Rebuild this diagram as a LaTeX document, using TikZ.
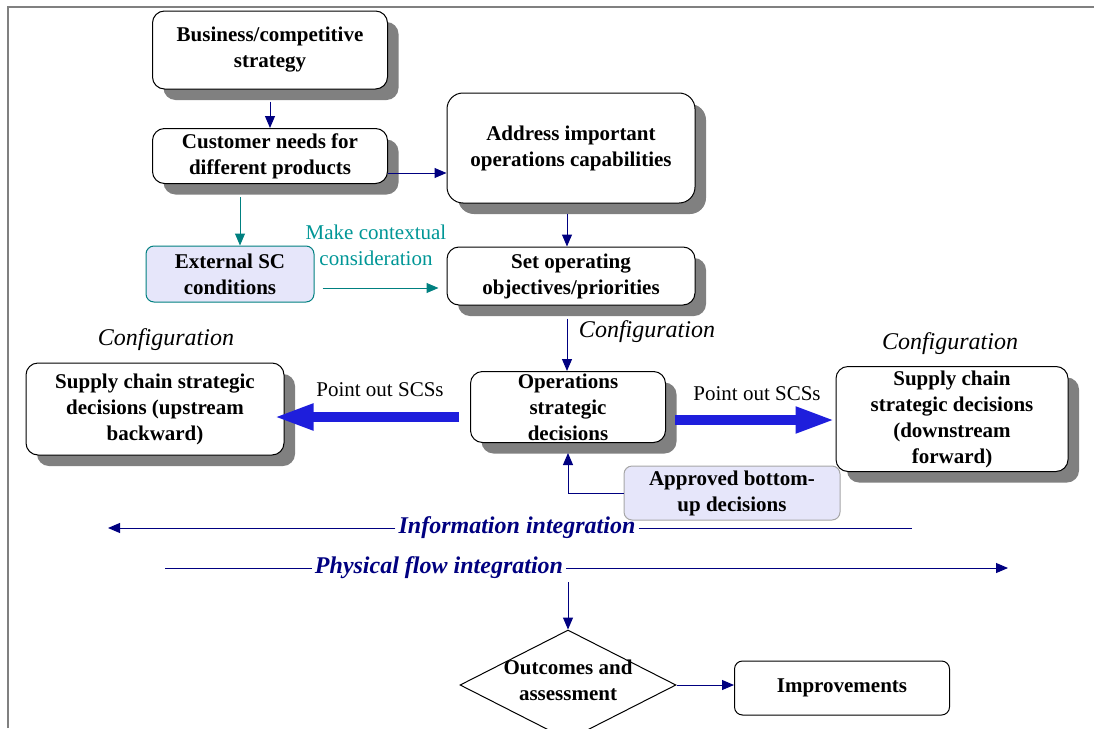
\documentclass[tikz,border=0pt]{standalone}
\usepackage{fontspec}
\setmainfont{Liberation Serif}
\usetikzlibrary{arrows.meta,shapes.geometric,shadows}

\definecolor{navyline}{RGB}{0,0,128}
\definecolor{tealline}{RGB}{0,128,128}
\definecolor{tealtext}{RGB}{0,150,150}
\definecolor{fatblue}{RGB}{30,30,220}
\definecolor{lavbox}{RGB}{230,230,250}
\definecolor{shadegray}{RGB}{128,128,128}
\definecolor{framegray}{RGB}{128,128,128}

\newcommand\boxfont{\fontsize{21}{26}\selectfont\bfseries}
\newcommand\notefont{\fontsize{21}{26}\selectfont}
\newcommand\tagfont{\fontsize{24}{28}\selectfont\itshape}

\tikzset{
  stage/.style={draw, line width=1pt, rounded corners=12pt, fill=white,
    align=center, font=\boxfont, inner sep=0pt,
    drop shadow={shadow xshift=11pt, shadow yshift=-11pt, fill=shadegray, opacity=1}},
  plainbox/.style={draw, line width=1pt, rounded corners=8pt, fill=white,
    align=center, font=\boxfont, inner sep=0pt},
  sidebox/.style={plainbox, fill=lavbox},
  decide/.style={diamond, draw, line width=1pt, inner sep=0pt,
    minimum width=216pt, minimum height=110pt},
  flow/.style={navyline, line width=1pt, -{Triangle[length=12pt,width=10pt]}},
  flowline/.style={navyline, line width=1pt},
  tealflow/.style={tealline, line width=1pt, -{Triangle[length=12pt,width=10pt]}},
  fatflow/.style={fatblue, line width=10pt, -{Triangle[length=40pt,width=24pt]}},
  conftag/.style={font=\tagfont},
  flowtag/.style={font=\tagfont\bfseries, text=navyline, inner sep=3pt},
  scslabel/.style={font=\notefont}
}

\begin{document}
\begin{tikzpicture}[x=1pt, y=-1pt]
  \useasboundingbox (0,0) rectangle (1094,728);
  \draw[framegray, line width=2pt] (8,728) -- (8,7) -- (1094,7);

  \node[stage, minimum width=235pt, minimum height=78pt] (biz) at (270,50)
    {Business/competitive\\strategy};
  \node[stage, minimum width=235pt, minimum height=55pt] (cust) at (270,156)
    {Customer needs for\\different products};
  \node[stage, minimum width=248pt, minimum height=110pt, rounded corners=16pt] (addr) at (571,148)
    {Address important\\operations capabilities};
  \node[sidebox, draw=tealline, minimum width=168pt, minimum height=56pt] (ext) at (230,274)
    {External SC\\conditions};
  \node[stage, minimum width=248pt, minimum height=58pt] (setobj) at (571,276)
    {Set operating\\objectives/priorities};
  \node[stage, minimum width=258pt, minimum height=92pt] (up) at (155,409)
    {Supply chain strategic\\decisions (upstream\\backward)};
  \node[stage, minimum width=195pt, minimum height=71pt] (ops) at (568,407)
    {Operations\\strategic\\decisions};
  \node[stage, minimum width=232pt, minimum height=105pt] (down) at (952,419)
    {Supply chain\\strategic decisions\\(downstream\\forward)};
  \node[sidebox, draw=gray!70, minimum width=216pt, minimum height=54pt] (appr) at (732,493)
    {Approved bottom-\\up decisions};
  \node[decide, label={[font=\boxfont, align=center, yshift=5pt]center:Outcomes and\\assessment}] (outc) at (568,685) {};
  \node[plainbox, minimum width=215pt, minimum height=54pt] (impr) at (842,688) {Improvements};

  \node[font=\notefont, text=tealtext, align=center] (ctx) at (376,245)
    {Make contextual\\consideration};
  \node[conftag] (confL) at (166,340) {Configuration};
  \node[conftag] (confM) at (647,332) {Configuration};
  \node[conftag] (confR) at (950,344) {Configuration};
  \node[scslabel] (scsL) at (380,390) {Point out SCSs};
  \node[scslabel] (scsR) at (757,394) {Point out SCSs};

  \node[flowtag] (info) at (517,528) {Information integration};
  \node[flowtag] (phys) at (439,568) {Physical flow integration};
  \coordinate (infoL) at (108,528);
  \coordinate (infoR) at (912,528);
  \coordinate (physL) at (165,568);
  \coordinate (physR) at (1008,568);

  \draw[flow, shorten <=12pt] (biz.south) -- (cust.north);
  \draw[flow] ([yshift=-17pt]cust.east) -- ([yshift=-17pt]cust.east -| addr.west);
  \draw[tealflow, shorten <=13pt] ([xshift=-30pt]cust.south) -- ([xshift=-30pt]cust.south |- ext.north);
  \draw[tealflow, shorten <=8pt, shorten >=8pt] ([yshift=-14pt]ext.east) -- ([yshift=-14pt]ext.east -| setobj.west);
  \draw[flow, shorten <=10pt] ([xshift=-4pt]addr.south) -- ([xshift=-4pt]addr.south |- setobj.north);
  \draw[flow, shorten <=13pt] ([xshift=-4pt]setobj.south) -- ([xshift=-4pt]setobj.south |- ops.north);
  \draw[fatflow, shorten <=11pt, shorten >=-11pt] ([yshift=-10pt]ops.west) -- ([yshift=-10pt]ops.west -| up.east);
  \draw[fatflow, shorten <=9pt] ([yshift=-13pt]ops.east) -- ([yshift=-13pt]ops.east -| down.west);
  \draw[flow, shorten >=10pt] (appr.west) -| (ops.south);

  \draw[flowline] (info.east) -- (infoR);
  \draw[flow] (info.west) -- (infoL);
  \draw[flowline] (physL) -- (phys.west);
  \draw[flow] (phys.east) -- (physR);
  \draw[flow] (outc.north |- phys.south) -- (outc.north);
  \draw[flow] (outc.east) -- (outc.east -| impr.west);
\end{tikzpicture}
\end{document}
